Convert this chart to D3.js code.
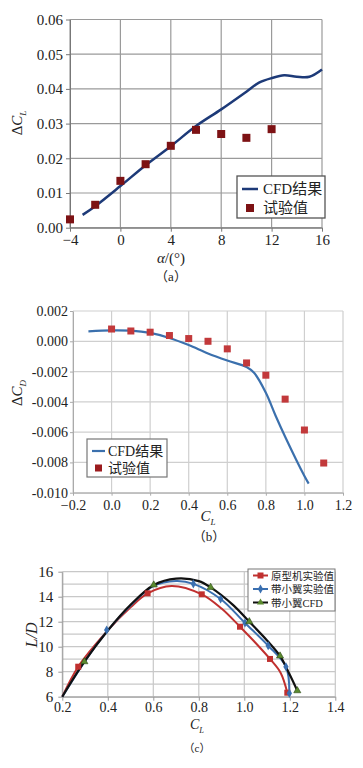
<!DOCTYPE html>
<html>
<head>
<meta charset="utf-8">
<script src="https://cdn.jsdelivr.net/npm/d3@7"></script>
<style>
  body { margin: 0; background: #fff; }
  svg { display: block; }
</style>
</head>
<body>
<script>
// ---- panel (a): delta CL vs alpha ----
const alphaTicks = [-4, 0, 4, 8, 12, 16];
const dclTicks = [0, 0.01, 0.02, 0.03, 0.04, 0.05, 0.06];
const cfdAlpha = [-3, -2, 0, 2, 4, 6, 8, 10, 11, 12, 13, 14, 15, 16];
const cfdDCL = [0.0037, 0.0062, 0.0120, 0.0180, 0.0235, 0.0293, 0.0341, 0.0392, 0.0418, 0.0431, 0.0439, 0.0435, 0.0435, 0.0456];
const expAlpha = [-4, -2, 0, 2, 4, 6, 8, 10, 12];
const expDCL = [0.0024, 0.0066, 0.0135, 0.0183, 0.0236, 0.0282, 0.0270, 0.0259, 0.0284];

// ---- panel (b): delta CD vs CL ----
const clTicksB = [-0.2, 0, 0.2, 0.4, 0.6, 0.8, 1.0, 1.2];
const dcdTicks = [0.002, 0, -0.002, -0.004, -0.006, -0.008, -0.010];
const cfdCL = [-0.12, 0, 0.1, 0.2, 0.3, 0.4, 0.5, 0.6, 0.7, 0.74, 0.8, 0.85, 0.9, 1.0, 1.022];
const cfdDCD = [0.00066, 0.00072, 0.0007, 0.00055, 0.00022, -0.00025, -0.0008, -0.00127, -0.0017, -0.0021, -0.0034, -0.0049, -0.0063, -0.0089, -0.0094];
const expCL = [0, 0.1, 0.2, 0.3, 0.4, 0.5, 0.6, 0.7, 0.8, 0.9, 1.0, 1.1];
const expDCD = [0.00081, 0.00068, 0.0006, 0.00038, 0.00018, 0.0, -0.0005, -0.00143, -0.00224, -0.00382, -0.00586, -0.00804];

// ---- panel (c): L/D vs CL ----
const clTicksC = [0.2, 0.4, 0.6, 0.8, 1.0, 1.2, 1.4];
const ldTicks = [6, 8, 10, 12, 14, 16];
const ldGrid = [6, 7, 8, 9, 10, 11, 12, 13, 14, 15, 16];
const protoCurveCL = [0.2, 0.27, 0.4, 0.5, 0.575, 0.68, 0.813, 0.9, 0.981, 1.05, 1.113, 1.16, 1.189];
const protoCurveLD = [6.0, 8.4, 11.3, 13.15, 14.27, 14.86, 14.19, 13.05, 11.6, 10.3, 9.02, 7.9, 6.32];
const protoCL = [0.27, 0.575, 0.813, 0.981, 1.113, 1.189];
const protoLD = [8.4, 14.27, 14.19, 11.6, 9.02, 6.32];
const wingExpCurveCL = [0.2, 0.3, 0.4, 0.5, 0.6, 0.7, 0.776, 0.896, 1.003, 1.105, 1.183, 1.198];
const wingExpCurveLD = [6.0, 8.85, 11.3, 13.3, 14.85, 15.25, 15.03, 13.82, 11.9, 10.08, 8.4, 6.27];
const wingExpCL = [0.395, 0.776, 0.896, 1.003, 1.105, 1.183, 1.198];
const wingExpLD = [11.34, 15.03, 13.82, 11.9, 10.08, 8.4, 6.27];
const wingCfdCurveCL = [0.2, 0.297, 0.4, 0.5, 0.602, 0.7, 0.8, 0.852, 0.95, 1.022, 1.1, 1.157, 1.2, 1.233];
const wingCfdCurveLD = [6.0, 8.8, 11.3, 13.35, 14.94, 15.45, 15.25, 14.75, 13.35, 12.0, 10.5, 9.26, 7.75, 6.48];
const wingCfdCL = [0.297, 0.602, 0.852, 1.022, 1.157, 1.233];
const wingCfdLD = [8.8, 14.94, 14.75, 12.0, 9.26, 6.48];

const serif = "'Liberation Serif', 'Times New Roman', 'Noto Sans CJK SC', serif";
const zip = (xs, ys) => xs.map((v, i) => [v, ys[i]]);

let svg = d3.select("body").append("svg")
    .attr("width", 363)
    .attr("height", 768)
    .attr("viewBox", [0, 0, 363, 768])
    .style("font-family", serif);

// draw gridlines + axes for one panel
function frame(x, y, xTicks, yTicks, yGrid, opt) {
    const [x0, x1] = x.range();
    const [y0, y1] = y.range();
    const g = svg.append("g");
    g.selectAll(".vg").data(xTicks).join("line")
        .attr("x1", d => x(d)).attr("x2", d => x(d))
        .attr("y1", y0).attr("y2", y1)
        .attr("stroke", opt.grid).attr("stroke-width", opt.gw);
    g.selectAll(".hg").data(yGrid).join("line")
        .attr("x1", x0).attr("x2", x1)
        .attr("y1", d => y(d)).attr("y2", d => y(d))
        .attr("stroke", opt.grid).attr("stroke-width", opt.gw);

    g.append("g")
        .attr("transform", `translate(0,${y0})`)
        .call(d3.axisBottom(x).tickValues(xTicks).tickFormat(opt.xf)
            .tickSize(opt.ts).tickSizeOuter(0).tickPadding(opt.xpad))
        .call(a => a.select(".domain").attr("stroke", opt.axis))
        .call(a => a.selectAll(".tick line").attr("stroke", opt.axis))
        .call(a => a.selectAll("text").attr("font-family", serif)
            .attr("font-size", opt.xfs || opt.fs).attr("fill", "#222"));

    g.append("g")
        .attr("transform", `translate(${x0},0)`)
        .call(d3.axisLeft(y).tickValues(yTicks).tickFormat(opt.yf)
            .tickSize(opt.ts).tickSizeOuter(0).tickPadding(opt.ypad))
        .call(a => a.select(".domain").attr("stroke", opt.axis))
        .call(a => a.selectAll(".tick line").attr("stroke", opt.axis))
        .call(a => a.selectAll("text").attr("font-family", serif)
            .attr("font-size", opt.fs).attr("fill", "#222"));
    return g;
}

function yLabel(cx, cy, main, sub, pre, size) {
    const t = svg.append("text")
        .attr("transform", `translate(${cx},${cy}) rotate(-90)`)
        .attr("text-anchor", "middle")
        .attr("font-size", size)
        .attr("fill", "#222");
    if (pre) t.append("tspan").text(pre);
    t.append("tspan").attr("font-style", "italic").text(main);
    if (sub) t.append("tspan").attr("font-style", "italic")
        .attr("font-size", size * 0.6).attr("dy", size * 0.25).text(sub);
}

function clLabel(cx, by, size) {
    const t = svg.append("text")
        .attr("x", cx).attr("y", by)
        .attr("text-anchor", "middle")
        .attr("font-size", size)
        .attr("fill", "#222");
    t.append("tspan").attr("font-style", "italic").text("C");
    t.append("tspan").attr("font-style", "italic")
        .attr("font-size", size * 0.6).attr("dy", size * 0.25).text("L");
}

// ================= (a) =================
let xa = d3.scaleLinear().domain([-4, 16]).range([70, 322]);
let ya = d3.scaleLinear().domain([0, 0.06]).range([227.7, 19.5]);

frame(xa, ya, alphaTicks, dclTicks, dclTicks, {
    grid: "#9a9a9a", gw: 1.2, axis: "#777", ts: 4, fs: 15,
    xpad: 3, ypad: 3, xf: d3.format("d"), yf: d3.format(".2f")
});

svg.append("path")
    .attr("d", d3.line().x(d => xa(d[0])).y(d => ya(d[1]))
        .curve(d3.curveCatmullRom)(zip(cfdAlpha, cfdDCL)))
    .attr("fill", "none")
    .attr("stroke", "#1d3a78")
    .attr("stroke-width", 2.5);

svg.selectAll(".expa").data(zip(expAlpha, expDCL)).join("rect")
    .attr("x", d => xa(d[0]) - 4).attr("y", d => ya(d[1]) - 4)
    .attr("width", 8).attr("height", 8)
    .attr("fill", "#7d1214");

yLabel(22, 123, "C", "L", "Δ", 15);
svg.append("text")
    .attr("x", 171).attr("y", 263)
    .attr("text-anchor", "middle").attr("font-size", 15).attr("fill", "#222")
    .call(t => {
        t.append("tspan").attr("font-style", "italic").text("α");
        t.append("tspan").text("/(°)");
    });
svg.append("text")
    .attr("x", 171).attr("y", 281)
    .attr("text-anchor", "middle").attr("font-size", 13).attr("fill", "#222")
    .text("（a）");

// legend (a)
let lga = svg.append("g");
lga.append("rect").attr("x", 237).attr("y", 176).attr("width", 88).attr("height", 42)
    .attr("fill", "#fff").attr("stroke", "#555").attr("stroke-width", 1.3);
lga.append("line").attr("x1", 242).attr("x2", 258).attr("y1", 189).attr("y2", 189)
    .attr("stroke", "#1d3a78").attr("stroke-width", 2.5);
lga.append("rect").attr("x", 246).attr("y", 204).attr("width", 8).attr("height", 8)
    .attr("fill", "#7d1214");
lga.append("text").attr("x", 263).attr("y", 194).attr("font-size", 15).attr("fill", "#222").text("CFD结果");
lga.append("text").attr("x", 263).attr("y", 213).attr("font-size", 15).attr("fill", "#222").text("试验值");

// ================= (b) =================
let xb = d3.scaleLinear().domain([-0.2, 1.2]).range([73, 343]);
let yb = d3.scaleLinear().domain([-0.010, 0.002]).range([492.7, 311]);

frame(xb, yb, clTicksB, dcdTicks, dcdTicks, {
    grid: "#cfcfcf", gw: 1.2, axis: "#aaa", ts: 3, fs: 14,
    xpad: 4, ypad: 2, xf: d3.format(".1f"), yf: d => d3.format(".3f")(d).replace("−", "-")
});

svg.append("path")
    .attr("d", d3.line().x(d => xb(d[0])).y(d => yb(d[1]))
        .curve(d3.curveCatmullRom)(zip(cfdCL, cfdDCD)))
    .attr("fill", "none")
    .attr("stroke", "#3b70ad")
    .attr("stroke-width", 2.2);

svg.selectAll(".expb").data(zip(expCL, expDCD)).join("rect")
    .attr("x", d => xb(d[0]) - 3.5).attr("y", d => yb(d[1]) - 3.5)
    .attr("width", 7).attr("height", 7)
    .attr("fill", "#c2393b");

yLabel(22, 393, "C", "D", "Δ", 15);
clLabel(208, 521, 15);
svg.append("text")
    .attr("x", 209).attr("y", 541)
    .attr("text-anchor", "middle").attr("font-size", 13).attr("fill", "#222")
    .text("（b）");

// legend (b)
let lgb = svg.append("g");
lgb.append("rect").attr("x", 87).attr("y", 439).attr("width", 80).attr("height", 38)
    .attr("fill", "#fff").attr("stroke", "#777").attr("stroke-width", 1.2);
lgb.append("line").attr("x1", 92).attr("x2", 105).attr("y1", 451).attr("y2", 451)
    .attr("stroke", "#3b70ad").attr("stroke-width", 2.2);
lgb.append("rect").attr("x", 95).attr("y", 464.5).attr("width", 7).attr("height", 7)
    .attr("fill", "#9b1b1e");
lgb.append("text").attr("x", 108).attr("y", 456).attr("font-size", 14).attr("fill", "#222").text("CFD结果");
lgb.append("text").attr("x", 108).attr("y", 473).attr("font-size", 14).attr("fill", "#222").text("试验值");

// ================= (c) =================
let xc = d3.scaleLinear().domain([0.2, 1.4]).range([62.3, 335.3]);
let yc = d3.scaleLinear().domain([6, 16]).range([696.7, 571.7]);

frame(xc, yc, clTicksC, ldTicks, ldGrid, {
    grid: "#c8c8c8", gw: 1.2, axis: "#999", ts: 4, fs: 15, xfs: 14,
    xpad: 1, ypad: 5, xf: d3.format(".1f"), yf: d3.format("d")
});

const lineC = d3.line().x(d => xc(d[0])).y(d => yc(d[1])).curve(d3.curveCatmullRom);
const colProto = "#c0302f", colWing = "#3a6fb0", colCfd = "#111", colTri = "#5b8a2e";

svg.append("path").attr("d", lineC(zip(protoCurveCL, protoCurveLD)))
    .attr("fill", "none").attr("stroke", colProto).attr("stroke-width", 2);
svg.append("path").attr("d", lineC(zip(wingExpCurveCL, wingExpCurveLD)))
    .attr("fill", "none").attr("stroke", colWing).attr("stroke-width", 2);
svg.append("path").attr("d", lineC(zip(wingCfdCurveCL, wingCfdCurveLD)))
    .attr("fill", "none").attr("stroke", colCfd).attr("stroke-width", 2.2);

const sq = d3.symbol().type(d3.symbolSquare).size(36);
const dia = d3.symbol().type(d3.symbolDiamond).size(24);
const tri = d3.symbol().type(d3.symbolTriangle).size(22);

svg.selectAll(".mp").data(zip(protoCL, protoLD)).join("path")
    .attr("transform", d => `translate(${xc(d[0])},${yc(d[1])})`)
    .attr("d", sq).attr("fill", colProto);
svg.selectAll(".mw").data(zip(wingExpCL, wingExpLD)).join("path")
    .attr("transform", d => `translate(${xc(d[0])},${yc(d[1])})`)
    .attr("d", dia).attr("fill", colWing);
svg.selectAll(".mc").data(zip(wingCfdCL, wingCfdLD)).join("path")
    .attr("transform", d => `translate(${xc(d[0])},${yc(d[1])})`)
    .attr("d", tri).attr("fill", colTri).attr("stroke", "#2d4a18").attr("stroke-width", 0.6);

yLabel(37, 635, "L/D", null, null, 16);
clLabel(197, 729, 14);
svg.append("text")
    .attr("x", 197).attr("y", 752)
    .attr("text-anchor", "middle").attr("font-size", 11).attr("fill", "#222")
    .text("（c）");

// legend (c)
let lgc = svg.append("g");
lgc.append("rect").attr("x", 248).attr("y", 569).attr("width", 87).attr("height", 42)
    .attr("fill", "#fff").attr("stroke", "#777").attr("stroke-width", 1);
const legC = [
    ["原型机实验值", colProto, sq, null],
    ["带小翼实验值", colWing, dia, null],
    ["带小翼CFD", colCfd, tri, colTri]
];
legC.forEach((d, i) => {
    const yy = 575.5 + i * 13.5;
    lgc.append("line").attr("x1", 253).attr("x2", 268).attr("y1", yy).attr("y2", yy)
        .attr("stroke", d[1]).attr("stroke-width", 2);
    lgc.append("path").attr("transform", `translate(260.5,${yy})`)
        .attr("d", d[2]).attr("fill", d[3] || d[1]);
    lgc.append("text").attr("x", 271).attr("y", yy + 4).attr("font-size", 10.5)
        .attr("fill", "#222").text(d[0]);
});
</script>
</body>
</html>
